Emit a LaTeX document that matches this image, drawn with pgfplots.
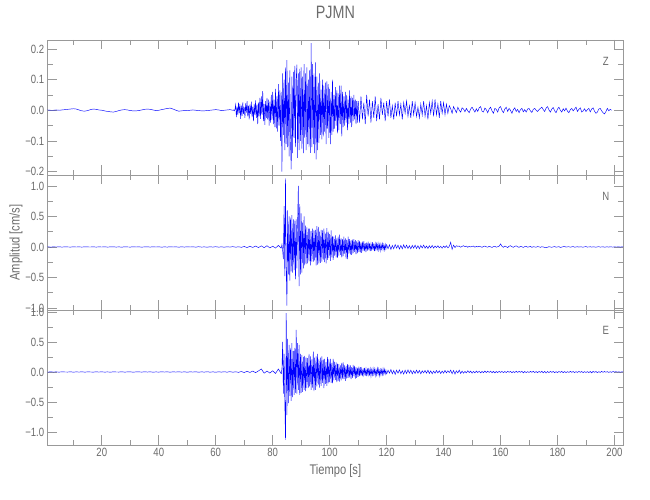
\documentclass[border=0pt]{standalone}
\usepackage{fontspec}
\setmainfont{Liberation Sans}[FakeStretch=0.8]
\usepackage{pgfplots}
\usepackage{pgfplotstable}
\pgfplotsset{compat=1.18}
\definecolor{axisgray}{gray}{0.6}
\definecolor{textgray}{gray}{0.42}

% ---------- Z component ----------
\pgfplotstableread[row sep=\\,header=false]{
0\\0.001\\0\\0\\0.001\\0\\0.001\\0.002\\0.003\\0.004\\
0.005\\0.004\\0.001\\-0.002\\-0.003\\-0.001\\0.002\\0.004\\0.003\\0.001\\
0\\-0.002\\-0.004\\-0.005\\-0.006\\-0.004\\-0.001\\0.001\\0.002\\0.001\\
-0.001\\-0.002\\-0.002\\-0.001\\0.001\\0.003\\0.004\\0.003\\0.001\\-0.001\\
0\\0.002\\0.004\\0.006\\0.007\\0.004\\0\\-0.003\\-0.002\\-0.001\\
-0.001\\0\\0.001\\0\\-0.001\\-0.002\\-0.002\\-0.001\\0\\0.001\\
0.002\\0.001\\-0.001\\0\\0.001\\0.002\\0\\
}\zquiet
\pgfplotstableread[row sep=\\,header=false]{
0\\0.001\\-0.002\\0.003\\
0.018\\-0.022\\0.012\\-0.015\\
0.025\\-0.010\\0.020\\-0.028\\
0.015\\-0.018\\0.026\\-0.012\\
0.010\\-0.025\\0.022\\-0.008\\
0.030\\-0.020\\0.015\\-0.030\\
0.018\\-0.012\\0.028\\-0.022\\
0.012\\-0.035\\0.020\\-0.015\\
0.032\\-0.025\\0.018\\-0.045\\
0.025\\-0.020\\0.040\\-0.028\\
0.045\\-0.015\\0.062\\-0.035\\
0.020\\-0.048\\0.030\\-0.025\\
0.040\\-0.030\\0.035\\-0.050\\
0.028\\-0.040\\0.050\\-0.032\\
0.060\\-0.045\\0.035\\-0.055\\
0.070\\-0.060\\0.045\\-0.070\\
0.085\\-0.050\\0.065\\-0.100\\
0.060\\-0.200\\0.120\\-0.080\\
0.100\\-0.130\\0.140\\-0.110\\
0.163\\-0.120\\0.090\\-0.150\\
0.130\\-0.100\\-0.193\\0.110\\
-0.140\\0.125\\-0.090\\0.145\\
-0.120\\0.100\\0.149\\-0.155\\
0.120\\-0.130\\0.135\\-0.100\\
0.140\\-0.125\\0.110\\-0.140\\
0.150\\-0.090\\0.120\\-0.130\\
0.140\\-0.110\\0.100\\-0.120\\
0.130\\-0.139\\0.219\\-0.120\\
0.150\\-0.110\\0.120\\-0.140\\
0.156\\-0.160\\0.110\\-0.130\\
0.090\\-0.106\\0.120\\-0.080\\
0.067\\-0.095\\0.100\\-0.085\\
0.080\\-0.070\\0.090\\-0.110\\
0.094\\-0.060\\0.085\\-0.090\\
0.070\\-0.110\\0.060\\-0.080\\
0.100\\-0.070\\0.050\\-0.060\\
0.075\\-0.050\\0.065\\-0.075\\
0.055\\-0.065\\0.080\\-0.045\\
0.080\\-0.085\\0.060\\-0.055\\
0.045\\-0.050\\0.060\\-0.040\\
0.050\\-0.065\\0.035\\-0.045\\
0.065\\-0.040\\0.045\\-0.055\\
0.040\\-0.035\\0.050\\-0.030\\
0.035\\-0.045\\0.030\\-0.040\\
0.030\\
}\zstrong
\pgfplotstableread[row sep=\\,header=false]{
0.030\\-0.040\\0.045\\-0.030\\0.025\\-0.045\\0.050\\-0.020\\0.035\\-0.040\\
0.030\\-0.025\\0.045\\-0.035\\0.020\\-0.030\\0.040\\-0.015\\0.025\\-0.035\\
0.030\\-0.020\\0.035\\-0.025\\0.015\\-0.030\\0.025\\-0.020\\0.030\\-0.015\\
0.020\\-0.030\\0.025\\-0.010\\0.030\\-0.020\\0.015\\-0.025\\0.030\\-0.015\\
0.025\\-0.020\\0.010\\-0.025\\0.020\\-0.015\\0.030\\-0.020\\0.015\\-0.030\\
0.025\\-0.010\\0.030\\-0.020\\0.035\\-0.015\\0.020\\-0.025\\0.030\\-0.010\\
0.025\\-0.015\\0.020\\-0.010\\0.015\\0.005\\-0.010\\0.012\\0.002\\-0.008\\
0.010\\0\\-0.006\\0.008\\0.004\\-0.005\\0.006\\-0.002\\-0.008\\0.004\\
0.010\\0.002\\-0.006\\0.005\\-0.004\\0.008\\0.012\\-0.003\\-0.006\\0.007\\
0.002\\-0.008\\0.004\\0.010\\-0.002\\-0.010\\0.006\\0.003\\-0.006\\0.008\\
0.012\\0\\-0.008\\0.004\\0.010\\-0.004\\0.006\\0\\-0.010\\0.002\\
0.008\\-0.004\\0.003\\-0.008\\0.002\\0.006\\-0.005\\0.002\\-0.006\\0.004\\
0.006\\-0.002\\-0.007\\0.003\\0.006\\0\\-0.004\\0.002\\0.006\\0.010\\
0.002\\-0.004\\0.007\\0.012\\0.001\\-0.006\\0.004\\0.009\\-0.002\\-0.008\\
0.004\\0.010\\0\\-0.006\\0.005\\-0.002\\0.007\\-0.003\\-0.008\\0.002\\
0.006\\-0.002\\0.004\\0.010\\-0.004\\0.003\\0.008\\-0.006\\-0.002\\0.005\\
-0.004\\0.002\\0.006\\-0.005\\0.004\\0.008\\-0.003\\-0.010\\-0.006\\0.004\\
0.006\\-0.002\\-0.008\\-0.012\\-0.004\\0.006\\-0.002\\0.003\\0\\
}\zcoda

% ---------- N component ----------
\pgfplotstableread[row sep=\\,header=false]{
0\\0.002\\-0.002\\0.001\\-0.001\\0.002\\-0.002\\0.001\\0\\-0.002\\
0.002\\-0.001\\0.001\\-0.002\\0.002\\0\\-0.001\\0.002\\-0.002\\0.001\\
-0.001\\0.002\\-0.002\\0.001\\0.003\\-0.002\\0.001\\-0.003\\0.002\\0\\
-0.002\\0.003\\-0.001\\0.002\\-0.003\\0.001\\0.002\\-0.002\\0.003\\-0.001\\
0.002\\-0.003\\0.001\\-0.002\\0.003\\-0.001\\0.002\\-0.003\\0.002\\-0.002\\
0.003\\-0.001\\0.002\\-0.003\\0.004\\-0.002\\0.001\\-0.004\\0.003\\-0.002\\
0.004\\-0.003\\0.002\\-0.004\\0.003\\-0.002\\0.005\\-0.004\\0.003\\-0.006\\
0.008\\-0.010\\0.012\\-0.008\\0.015\\-0.010\\0.018\\-0.012\\0.020\\-0.015\\
0.012\\-0.018\\0.025\\-0.020\\
}\nquiet
\pgfplotstableread[row sep=\\,header=false]{
-0.020\\0.040\\-0.060\\-0.200\\
0.670\\-0.480\\1.125\\-0.350\\
-0.960\\0.600\\-0.450\\0.500\\
-0.550\\0.480\\-0.400\\0.520\\
-0.420\\0.450\\-0.380\\0.430\\
-0.530\\0.450\\-0.350\\0.400\\
1.000\\-0.640\\0.700\\-0.450\\
0.550\\-0.420\\0.400\\-0.350\\
0.500\\-0.300\\0.350\\-0.280\\
0.320\\-0.270\\0.300\\-0.240\\
0.300\\-0.300\\0.260\\-0.240\\
0.300\\-0.240\\0.280\\-0.220\\
0.280\\-0.300\\0.340\\-0.290\\
0.330\\-0.270\\0.250\\-0.260\\
0.280\\-0.240\\0.270\\-0.210\\
0.300\\-0.250\\0.220\\-0.270\\
0.310\\-0.210\\0.250\\-0.180\\
0.210\\-0.230\\0.270\\-0.170\\
0.180\\-0.210\\0.170\\-0.140\\
0.190\\-0.170\\0.140\\-0.180\\
0.170\\-0.140\\0.200\\-0.130\\
0.140\\-0.170\\0.130\\-0.150\\
0.170\\-0.110\\0.140\\-0.190\\
0.120\\-0.200\\0.170\\-0.110\\
0.130\\-0.120\\0.110\\-0.130\\
0.120\\-0.100\\0.130\\-0.080\\
0.110\\-0.120\\0.090\\-0.100\\
0.110\\-0.080\\0.100\\-0.090\\
0.075\\-0.095\\0.085\\-0.060\\
0.095\\-0.070\\0.060\\-0.085\\
0.070\\-0.060\\0.085\\-0.050\\
0.060\\-0.070\\0.050\\-0.060\\
0.080\\-0.050\\0.060\\-0.070\\
0.050\\-0.060\\0.070\\-0.040\\
0.060\\-0.050\\0.040\\-0.060\\
0.050\\-0.035\\0.055\\-0.045\\
0.035\\-0.050\\0.045\\-0.035\\
0.040\\
}\nstrong
\pgfplotstableread[row sep=\\,header=false]{
0.040\\-0.030\\0.035\\-0.040\\0.025\\-0.030\\0.040\\-0.020\\0.030\\-0.035\\
0.025\\-0.030\\0.035\\-0.020\\0.030\\-0.025\\0.020\\-0.030\\0.025\\-0.020\\
0.030\\-0.025\\0.020\\-0.030\\0.025\\-0.015\\0.030\\-0.020\\0.015\\-0.025\\
0.020\\-0.015\\0.025\\-0.020\\0.015\\-0.010\\0.020\\-0.015\\0.010\\-0.020\\
0.015\\-0.010\\0.020\\-0.015\\0.010\\0.076\\-0.040\\0.030\\-0.010\\0.020\\
0.010\\0.015\\-0.005\\0.010\\0.020\\0.005\\0.015\\-0.005\\0.010\\0\\
0.008\\0.015\\-0.005\\0.010\\0\\0.012\\0.004\\-0.006\\0.008\\0.014\\
0.002\\-0.004\\0.010\\0.002\\-0.008\\0.006\\0.010\\-0.004\\0.004\\0.012\\
0.050\\0.010\\-0.006\\0.015\\0.004\\-0.010\\0.012\\0.020\\0.004\\-0.006\\
0.010\\0.018\\0.002\\-0.006\\0.008\\0.004\\-0.008\\0.006\\0.010\\-0.004\\
0.002\\0.008\\-0.006\\0.004\\0\\-0.004\\0.006\\0.002\\-0.006\\0.004\\
0\\-0.008\\-0.012\\-0.004\\0.004\\0\\-0.006\\0.002\\0.006\\-0.004\\
0\\0.005\\-0.008\\-0.002\\0.004\\0.006\\-0.002\\0.002\\0.004\\-0.004\\
0.002\\0.006\\-0.004\\0\\0.004\\-0.002\\0.002\\0\\-0.004\\0.003\\
0.005\\-0.002\\0\\0.004\\-0.003\\0.002\\0\\-0.004\\0.002\\0.004\\
-0.002\\0\\0.003\\-0.004\\0\\0.002\\-0.002\\0.003\\0\\-0.002\\
0.002\\-0.001\\0\\0.002\\-0.002\\0.001\\0\\
}\ncoda

% ---------- E component ----------
\pgfplotstableread[row sep=\\,header=false]{
0\\-0.002\\0.002\\-0.001\\0.001\\-0.002\\0.002\\0\\-0.001\\0.002\\
-0.002\\0.001\\-0.001\\0.002\\-0.002\\0.001\\0\\-0.002\\0.002\\-0.001\\
0.002\\-0.002\\0.001\\-0.003\\0.002\\0\\-0.001\\0.003\\-0.002\\0.001\\
0.002\\-0.003\\0.001\\0.002\\-0.002\\0.003\\-0.001\\0.002\\-0.003\\0.001\\
-0.002\\0.003\\-0.001\\0.002\\-0.003\\0.002\\-0.001\\0.003\\-0.002\\0.002\\
-0.003\\0.002\\-0.001\\0.003\\-0.004\\0.002\\-0.002\\0.004\\-0.003\\0.002\\
-0.004\\0.003\\-0.002\\0.004\\-0.003\\0.005\\-0.004\\0.003\\-0.006\\0.008\\
-0.010\\0.012\\-0.008\\0.015\\-0.012\\0.018\\0.050\\-0.020\\0.015\\-0.018\\
0.020\\-0.025\\0.050\\-0.030\\
}\equiet
\pgfplotstableread[row sep=\\,header=false]{
-0.030\\0.060\\0.500\\-0.360\\
0.300\\-0.500\\-1.130\\0.980\\
-0.720\\0.550\\-0.520\\0.450\\
-0.400\\0.400\\-0.480\\0.480\\
-0.420\\0.350\\-0.380\\0.400\\
-0.350\\0.700\\-0.360\\0.480\\
-0.300\\0.450\\-0.380\\0.300\\
-0.350\\0.280\\-0.330\\0.250\\
-0.300\\0.270\\-0.320\\0.240\\
-0.270\\0.230\\-0.260\\0.300\\
-0.240\\0.260\\-0.300\\0.210\\
-0.260\\0.340\\-0.320\\0.240\\
-0.300\\0.260\\-0.240\\0.300\\
-0.210\\0.210\\-0.260\\0.240\\
-0.230\\0.260\\-0.180\\0.210\\
-0.270\\0.220\\-0.200\\0.170\\
-0.230\\0.250\\-0.190\\0.210\\
-0.170\\0.220\\-0.180\\0.150\\
-0.190\\0.220\\-0.140\\0.170\\
-0.130\\0.160\\-0.170\\0.140\\
-0.150\\0.130\\-0.160\\0.110\\
-0.140\\0.150\\-0.110\\0.160\\
-0.120\\0.110\\-0.150\\0.100\\
-0.110\\0.130\\-0.100\\0.120\\
-0.090\\0.110\\-0.120\\0.080\\
-0.100\\0.120\\-0.070\\0.100\\
-0.110\\0.080\\-0.100\\0.070\\
-0.080\\0.090\\-0.070\\0.080\\
-0.060\\0.050\\-0.070\\0.060\\
-0.050\\0.070\\-0.060\\0.050\\
-0.070\\0.060\\-0.050\\0.070\\
-0.060\\0.050\\-0.070\\0.040\\
-0.050\\0.060\\-0.040\\0.050\\
-0.060\\0.040\\-0.050\\0.060\\
-0.040\\0.050\\-0.060\\0.040\\
-0.050\\0.040\\-0.045\\0.055\\
-0.035\\0.045\\-0.035\\0.030\\
-0.035\\
}\estrong
\pgfplotstableread[row sep=\\,header=false]{
-0.035\\0.030\\-0.020\\0.040\\-0.030\\0.025\\-0.040\\0.030\\-0.020\\0.035\\
-0.030\\0.020\\-0.035\\0.030\\-0.025\\0.035\\-0.020\\0.030\\-0.030\\0.020\\
-0.025\\0.030\\-0.020\\0.025\\-0.030\\0.020\\-0.015\\0.025\\-0.020\\0.030\\
-0.025\\0.020\\-0.030\\0.015\\-0.020\\0.025\\-0.015\\0.020\\-0.025\\0.015\\
-0.020\\0.025\\-0.015\\0.020\\-0.010\\0.030\\-0.030\\0.025\\-0.035\\0.020\\
-0.015\\0.030\\-0.025\\0.015\\-0.020\\0.010\\-0.015\\0.020\\-0.010\\0.015\\
-0.020\\0.010\\-0.015\\0.015\\-0.010\\0.012\\-0.015\\0.010\\-0.012\\0.015\\
-0.010\\0.012\\-0.008\\0.015\\-0.012\\0.010\\-0.015\\0.008\\-0.010\\0.012\\
-0.008\\0.010\\-0.012\\0.008\\-0.010\\0.012\\-0.006\\0.010\\-0.012\\0.008\\
-0.010\\0.012\\-0.008\\0.010\\-0.006\\0.012\\-0.015\\0.008\\-0.010\\0.006\\
-0.008\\0.010\\-0.006\\0.012\\-0.010\\0.008\\-0.012\\0.010\\-0.008\\0.012\\
-0.015\\0.010\\-0.018\\0.008\\-0.010\\0.012\\-0.008\\0.010\\-0.012\\0.006\\
-0.010\\0.008\\-0.006\\0.010\\-0.012\\0.008\\-0.010\\0.006\\-0.008\\0.010\\
-0.006\\0.008\\-0.010\\0.006\\-0.008\\0.010\\-0.006\\0.008\\-0.010\\0.006\\
-0.008\\0.006\\-0.010\\0.008\\-0.015\\0.010\\-0.006\\0.008\\-0.012\\0.006\\
-0.008\\0.010\\-0.006\\0.008\\-0.004\\0.006\\-0.008\\0.004\\-0.006\\0.008\\
-0.004\\0.006\\-0.002\\0.004\\-0.003\\0.002\\0\\
}\ecoda

\pgfplotsset{
  seis/.style={
    scale only axis, width=575.3bp, height=135bp,
    xmin=1, xmax=203,
    xtick={20,40,60,80,100,120,140,160,180,200},
    minor xtick={10,30,50,70,90,110,130,150,170,190},
    tick align=inside,
    major tick length=9.5bp, minor tick length=5bp,
    axis line style={axisgray, line width=0.7bp},
    tick style={axisgray, line width=0.7bp},
    ticklabel style={font=\fontsize{12}{14}\selectfont, text=textgray},
    label style={font=\fontsize{14}{16}\selectfont, text=textgray},
  },
  trace/.style={color=blue, line width=0.45bp, mark=none},
}

\begin{document}
\begin{tikzpicture}
\path[use as bounding box] (0,0) rectangle (650bp,500bp);

% Z
\begin{axis}[seis, at={(47.7bp,325bp)}, anchor=south west,
  ymin=-0.211, ymax=0.229,
  ytick={-0.2,-0.1,0,0.1,0.2},
  yticklabels={−0.2,−0.1,0.0,0.1,0.2},
  minor ytick={-0.15,-0.05,0.05,0.15},
  xticklabels={},
  title={PJMN},
  title style={at={(rel axis cs:0.5,1)}, anchor=center, yshift=22bp,
    font=\fontsize{18}{20}\selectfont, text=textgray},
]
\addplot[trace] table[x expr=\coordindex, y index=0] {\zquiet};
\addplot[trace] table[x expr=\coordindex*0.25+66, y index=0] {\zstrong};
\addplot[trace] table[x expr=\coordindex*0.5+110, y index=0] {\zcoda};
\node[text=textgray, font=\fontsize{12}{14}\selectfont] at (rel axis cs:0.97,0.844) {Z};
\end{axis}

% N
\begin{axis}[seis, at={(47.7bp,190bp)}, anchor=south west,
  ymin=-1.033, ymax=1.179,
  ytick={-1,-0.5,0,0.5,1},
  yticklabels={−1.0,−0.5,0.0,0.5,1.0},
  minor ytick={-0.75,-0.25,0.25,0.75},
  xticklabels={},
  ylabel={Amplitud [cm/s]},
  ylabel style={at={(rel axis cs:0,0.5)}, anchor=center, rotate=0, yshift=31.7bp},
]
\addplot[trace] table[x expr=\coordindex, y index=0] {\nquiet};
\addplot[trace] table[x expr=\coordindex*0.25+83, y index=0] {\nstrong};
\addplot[trace] table[x expr=\coordindex*0.5+120, y index=0] {\ncoda};
\node[text=textgray, font=\fontsize{12}{14}\selectfont] at (rel axis cs:0.97,0.845) {N};
\end{axis}

% E
\begin{axis}[seis, at={(47.7bp,55bp)}, anchor=south west,
  ymin=-1.217, ymax=1.033,
  ytick={-1,-0.5,0,0.5,1},
  yticklabels={−1.0,−0.5,0.0,0.5,1.0},
  minor ytick={-0.75,-0.25,0.25,0.75},
  xticklabels={20,40,60,80,100,120,140,160,180,200},
  xlabel={Tiempo [s]},
  xlabel style={at={(rel axis cs:0.5,0)}, anchor=center, yshift=-25.7bp},
]
\addplot[trace] table[x expr=\coordindex, y index=0] {\equiet};
\addplot[trace] table[x expr=\coordindex*0.25+83, y index=0] {\estrong};
\addplot[trace] table[x expr=\coordindex*0.5+120, y index=0] {\ecoda};
\node[text=textgray, font=\fontsize{12}{14}\selectfont] at (rel axis cs:0.97,0.848) {E};
\end{axis}
\end{tikzpicture}
\end{document}
